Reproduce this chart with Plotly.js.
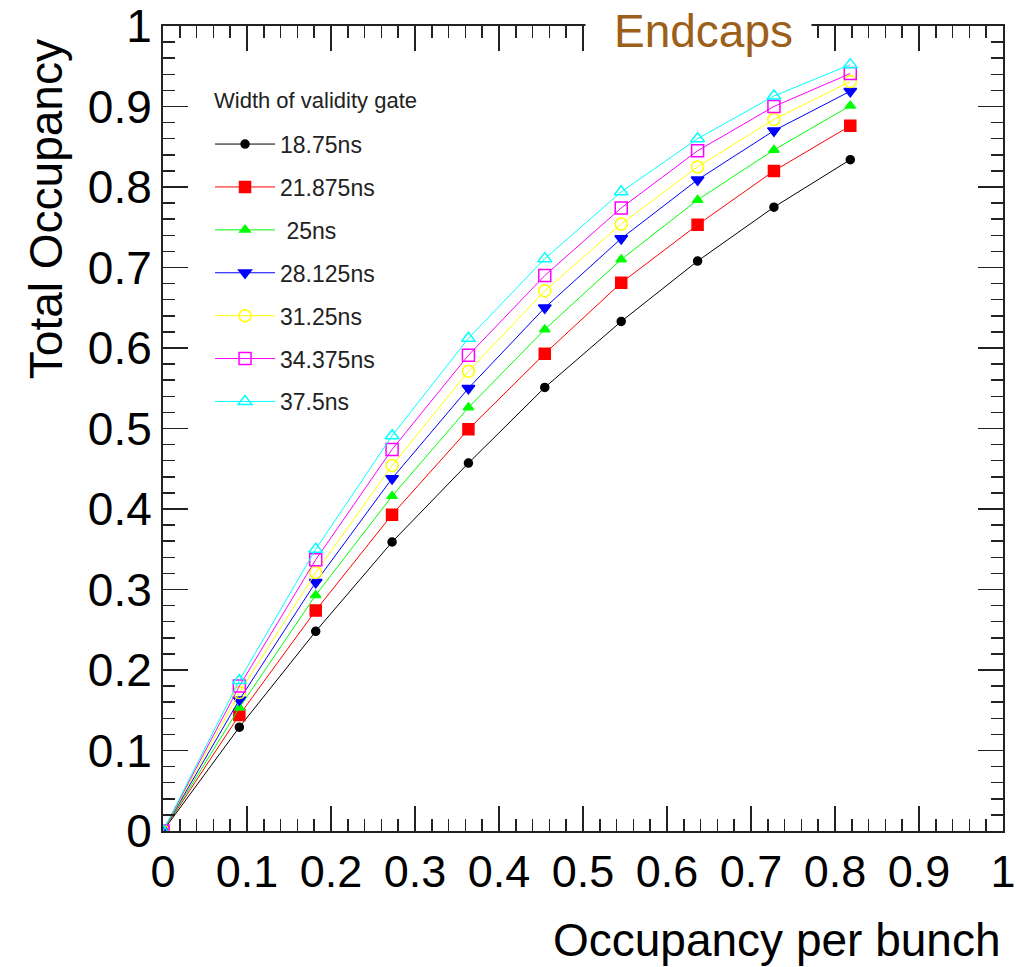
<!DOCTYPE html>
<html>
<head>
<meta charset="utf-8">
<script src="https://cdn.plot.ly/plotly-3.0.1.min.js"></script>
<style>html,body{margin:0;padding:0;background:#fff;}#chart{width:1016px;height:967px;}</style>
</head>
<body>
<div id="chart"></div>
<script>
// Occupancy per bunch (x) for every series
const occupancyPerBunch = [0, 0.0909, 0.1818, 0.2727, 0.3636, 0.4545, 0.5455, 0.6364, 0.7273, 0.8182];

// Series names (width of validity gate)
const gateNames = ["18.75ns", "21.875ns", " 25ns", "28.125ns", "31.25ns", "34.375ns", "37.5ns"];

// Total occupancy values per gate width
const occ_18_75  = [0, 0.129, 0.248, 0.359, 0.457, 0.551, 0.633, 0.708, 0.775, 0.834];
const occ_21_875 = [0, 0.144, 0.274, 0.393, 0.499, 0.593, 0.681, 0.753, 0.820, 0.876];
const occ_25     = [0, 0.153, 0.293, 0.416, 0.526, 0.623, 0.710, 0.784, 0.846, 0.901];
const occ_28_125 = [0, 0.163, 0.309, 0.438, 0.550, 0.650, 0.736, 0.809, 0.870, 0.919];
const occ_31_25  = [0, 0.172, 0.321, 0.454, 0.571, 0.671, 0.754, 0.825, 0.884, 0.931];
const occ_34_375 = [0, 0.180, 0.337, 0.474, 0.591, 0.690, 0.774, 0.845, 0.900, 0.941];
const occ_37_5   = [0, 0.187, 0.350, 0.491, 0.612, 0.711, 0.794, 0.860, 0.913, 0.952];

const seriesValues = [occ_18_75, occ_21_875, occ_25, occ_28_125, occ_31_25, occ_34_375, occ_37_5];

// Tick values and labels (both axes)
const tickValues = [0, 0.1, 0.2, 0.3, 0.4, 0.5, 0.6, 0.7, 0.8, 0.9, 1];
const tickLabels = ["0", "0.1", "0.2", "0.3", "0.4", "0.5", "0.6", "0.7", "0.8", "0.9", "1"];

// styles
const colors  = ["#000000", "#ff0000", "#00ff00", "#0000ff", "#ffff00", "#ff00ff", "#00ffff"];
const symbols = ["circle", "square", "triangle-up", "triangle-down", "circle-open", "square-open", "triangle-up-open"];
const sizes   = [8, 11, 9, 11, 12, 12, 12];

const traces = seriesValues.map((vals, i) => ({
  type: "scatter",
  mode: "lines+markers",
  x: occupancyPerBunch,
  y: vals,
  name: gateNames[i],
  legendgroup: "g" + i,
  line: {color: colors[i], width: 1},
  marker: {symbol: symbols[i], size: sizes[i], color: colors[i], line: {color: colors[i], width: 1.5}}
}));

const FONT = "Liberation Sans, Arial, Helvetica, sans-serif";

const axisCommon = {
  range: [0, 1],
  tickmode: "array",
  tickvals: tickValues,
  ticktext: tickLabels,
  ticks: "inside",
  ticklen: 25,
  tickwidth: 1.5,
  tickcolor: "#222",
  ticklabeloverflow: "allow",
  showline: true,
  linecolor: "#222",
  linewidth: 2,
  mirror: "allticks",
  showgrid: false,
  zeroline: false,
  minor: {dtick: 0.02, tick0: 0, ticks: "inside", ticklen: 12, tickwidth: 1.5, tickcolor: "#222", showgrid: false},
  fixedrange: true
};

const layout = {
  width: 1016,
  height: 967,
  margin: {l: 163, r: 13, t: 26, b: 136},
  paper_bgcolor: "#ffffff",
  plot_bgcolor: "#ffffff",
  font: {family: FONT, color: "#000"},
  showlegend: true,
  legend: {
    x: 0.056, y: 0.88, xanchor: "left", yanchor: "top",
    bgcolor: "rgba(0,0,0,0)",
    font: {family: FONT, size: 23, color: "#222"},
    tracegroupgap: 10,
    itemwidth: 60
  },
  xaxis: Object.assign({}, axisCommon, {
    tickfont: {family: FONT, size: 45, color: "#000"}
  }),
  yaxis: Object.assign({}, axisCommon, {
    tickfont: {family: FONT, size: 46, color: "#000"}
  }),
  shapes: [
    {type: "rect", xref: "paper", yref: "paper", x0: 0.503, x1: 0.772, y0: 0.966, y1: 1.035,
     fillcolor: "#ffffff", line: {width: 0}, layer: "above"}
  ],
  annotations: [
    {text: "Width of validity gate", xref: "paper", yref: "paper", x: 0.058, y: 0.908, xanchor: "left", yanchor: "middle",
     showarrow: false, font: {family: FONT, size: 22, color: "#222"}},
    {text: "Endcaps", xref: "paper", yref: "paper", x: 0.644, y: 0.994, xanchor: "center", yanchor: "middle",
     showarrow: false, font: {family: FONT, size: 46, color: "#9c5f1a"}},
    {text: "Occupancy per bunch", xref: "paper", yref: "paper", x: 1.0, y: -0.136, xanchor: "right", yanchor: "middle",
     showarrow: false, font: {family: FONT, size: 46, color: "#000"}},
    {text: "Total Occupancy", xref: "paper", yref: "paper", x: -0.14, y: 0.773, xanchor: "center", yanchor: "middle",
     textangle: -90, showarrow: false, font: {family: FONT, size: 46, color: "#000"}}
  ]
};

Plotly.newPlot("chart", traces, layout, {displayModeBar: false, staticPlot: true});
</script>
</body>
</html>
